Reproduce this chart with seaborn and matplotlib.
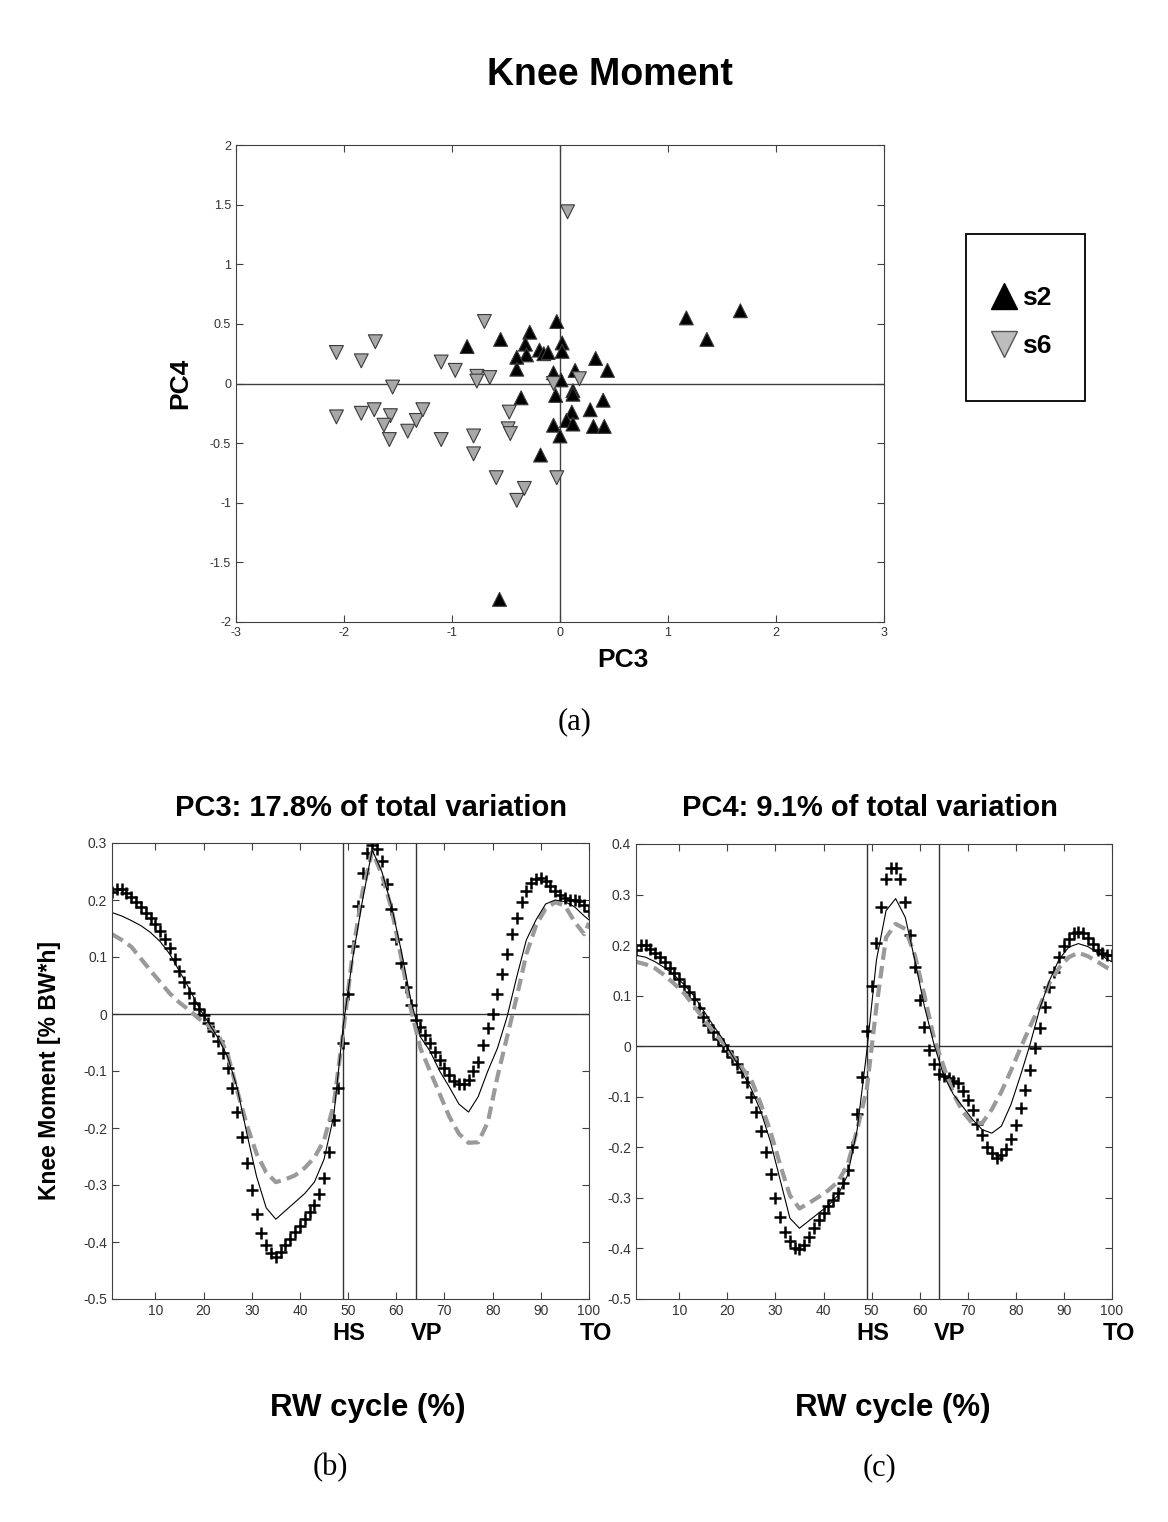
import pandas as pd
import seaborn as sns
import matplotlib.pyplot as plt
import matplotlib.transforms as mtransforms
from matplotlib.lines import Line2D
from matplotlib.patches import Rectangle
from matplotlib.ticker import FuncFormatter

# PC scores
s2_pc3 = [-0.86, -0.55, -0.28, -0.32, -0.31, -0.40, -0.40, -0.19, -0.15, -0.11,
          -0.03, 0.02, 0.02, -0.06, 0.01, 0.14, 0.33, 0.44, 1.17, 1.36,
          1.67, -0.36, -0.04, 0.12, 0.12, 0.40, 0.28, 0.11, 0.06, 0.12,
          -0.06, 0.31, 0.41, 0.00, -0.18, -0.56]
s2_pc4 = [0.31, 0.37, 0.43, 0.33, 0.24, 0.22, 0.12, 0.28, 0.25, 0.26,
          0.52, 0.34, 0.27, 0.09, 0.03, 0.11, 0.21, 0.11, 0.55, 0.37,
          0.61, -0.12, -0.10, -0.06, -0.09, -0.14, -0.22, -0.24, -0.31, -0.34,
          -0.35, -0.36, -0.36, -0.44, -0.60, -1.81]
s6_pc3 = [0.07, -2.07, -1.84, -1.71, -1.55, -1.10, -0.97, -0.70, -0.77, -0.65,
          -0.77, -0.06, 0.18, -2.07, -1.84, -1.72, -1.57, -1.63, -1.58, -1.41,
          -1.33, -1.27, -1.10, -0.80, -0.80, -0.47, -0.48, -0.46, -0.59, -0.33,
          -0.40, -0.03]
s6_pc4 = [1.44, 0.26, 0.19, 0.35, -0.03, 0.18, 0.11, 0.52, 0.06, 0.05,
          0.02, 0.00, 0.04, -0.28, -0.25, -0.22, -0.27, -0.35, -0.47, -0.40,
          -0.31, -0.22, -0.47, -0.44, -0.59, -0.24, -0.38, -0.42, -0.79, -0.88,
          -0.98, -0.79]

# knee moment curves, panels (b) and (c)
cycle = list(range(1, 101))
line_cycle = list(range(1, 100, 2)) + [100]
hs, vp = 49, 64

pc3_plus = [0.214, 0.22, 0.219, 0.213, 0.205, 0.197, 0.188, 0.178, 0.168, 0.158,
            0.145, 0.132, 0.115, 0.096, 0.076, 0.056, 0.036, 0.02, 0.008, -0.002,
            -0.015, -0.03, -0.047, -0.068, -0.095, -0.13, -0.172, -0.216, -0.262, -0.309,
            -0.35, -0.385, -0.406, -0.42, -0.427, -0.418, -0.405, -0.394, -0.382, -0.372,
            -0.36, -0.348, -0.335, -0.315, -0.287, -0.242, -0.186, -0.13, -0.05, 0.035,
            0.12, 0.19, 0.247, 0.282, 0.297, 0.29, 0.268, 0.228, 0.185, 0.131,
            0.089, 0.048, 0.016, -0.01, -0.022, -0.036, -0.05, -0.066, -0.081, -0.095,
            -0.107, -0.117, -0.122, -0.123, -0.115, -0.1, -0.085, -0.055, -0.025, 0.0,
            0.035, 0.07, 0.105, 0.14, 0.168, 0.196, 0.215, 0.23, 0.237, 0.238,
            0.233, 0.225, 0.215, 0.208, 0.203, 0.2, 0.2, 0.198, 0.192, 0.18]
pc3_mean = [0.178, 0.172, 0.164, 0.155, 0.143, 0.127, 0.105, 0.075, 0.045, 0.012,
            -0.015, -0.042, -0.075, -0.13, -0.21, -0.285, -0.34, -0.36, -0.345, -0.33,
            -0.315, -0.295, -0.255, -0.18, -0.02, 0.1, 0.2, 0.288, 0.25, 0.19,
            0.112, 0.025, -0.04, -0.065, -0.1, -0.128, -0.158, -0.172, -0.145, -0.1,
            -0.06, -0.005, 0.065, 0.13, 0.165, 0.193, 0.2, 0.197, 0.188, 0.172,
            0.165]
pc3_minus = [0.14, 0.13, 0.118, 0.097, 0.076, 0.056, 0.036, 0.02, 0.007, -0.008,
             -0.02, -0.036, -0.07, -0.135, -0.195, -0.245, -0.278, -0.295, -0.29, -0.283,
             -0.27, -0.252, -0.222, -0.16, -0.03, 0.11, 0.215, 0.285, 0.245, 0.185,
             0.1, 0.01, -0.06, -0.1, -0.14, -0.18, -0.21, -0.226, -0.225, -0.19,
             -0.11, -0.04, 0.03, 0.105, 0.155, 0.185, 0.196, 0.19, 0.162, 0.14,
             0.16]

pc4_plus = [0.19, 0.2, 0.2, 0.193, 0.185, 0.176, 0.166, 0.155, 0.145, 0.133,
            0.12, 0.108, 0.093, 0.075, 0.058, 0.042, 0.028, 0.015, 0.003, -0.01,
            -0.022, -0.035, -0.05, -0.07, -0.1, -0.13, -0.167, -0.21, -0.252, -0.3,
            -0.338, -0.368, -0.386, -0.399, -0.401, -0.393, -0.378, -0.36, -0.344, -0.33,
            -0.317, -0.305, -0.29, -0.27, -0.245, -0.2, -0.135, -0.06, 0.03, 0.12,
            0.205, 0.276, 0.33, 0.352, 0.352, 0.33, 0.285, 0.22, 0.157, 0.092,
            0.038, -0.007, -0.036, -0.054, -0.058, -0.063, -0.068, -0.073, -0.088, -0.106,
            -0.127, -0.153, -0.176, -0.199, -0.212, -0.222, -0.216, -0.203, -0.183, -0.156,
            -0.123, -0.087, -0.048, -0.003, 0.037, 0.078, 0.117, 0.147, 0.177, 0.198,
            0.213, 0.223, 0.225, 0.223, 0.215, 0.203, 0.191, 0.184, 0.181, 0.18]
pc4_mean = [0.18, 0.176, 0.167, 0.155, 0.14, 0.122, 0.1, 0.071, 0.042, 0.015,
            -0.018, -0.05, -0.085, -0.13, -0.19, -0.265, -0.34, -0.36, -0.345, -0.33,
            -0.315, -0.295, -0.255, -0.165, -0.01, 0.17, 0.268, 0.292, 0.255, 0.17,
            0.078, 0.003, -0.058, -0.095, -0.12, -0.145, -0.165, -0.172, -0.158, -0.115,
            -0.057, 0.005, 0.075, 0.13, 0.172, 0.196, 0.203, 0.197, 0.185, 0.172,
            0.167]
pc4_minus = [0.167, 0.162, 0.154, 0.14, 0.123, 0.105, 0.08, 0.055, 0.03, 0.008,
             -0.018, -0.042, -0.067, -0.115, -0.17, -0.235, -0.295, -0.321, -0.31, -0.298,
             -0.285, -0.268, -0.235, -0.165, -0.085, 0.078, 0.215, 0.242, 0.232, 0.18,
             0.1, 0.015, -0.04, -0.094, -0.13, -0.153, -0.152, -0.125, -0.09, -0.048,
             -0.003, 0.04, 0.08, 0.125, 0.155, 0.176, 0.185, 0.178, 0.167, 0.155,
             0.15]

a_xticks = [-3, -2, -1, 0, 1, 2, 3]
a_yticks = [-2, -1.5, -1, -0.5, 0, 0.5, 1, 1.5, 2]
bc_xticks = [10, 20, 30, 40, 50, 60, 70, 80, 90, 100]
b_yticks = [-0.5, -0.4, -0.3, -0.2, -0.1, 0, 0.1, 0.2, 0.3]
c_yticks = [-0.5, -0.4, -0.3, -0.2, -0.1, 0, 0.1, 0.2, 0.3, 0.4]

sns.set_style("ticks")
sans = ['Liberation Sans', 'DejaVu Sans']
serif = ['Liberation Serif', 'DejaVu Serif']
plt.rcParams['font.family'] = sans
plt.rcParams['text.color'] = 'black'
plt.rcParams['xtick.direction'] = 'in'
plt.rcParams['ytick.direction'] = 'in'
plt.rcParams['xtick.top'] = True
plt.rcParams['ytick.right'] = True
plt.rcParams['axes.edgecolor'] = '#404040'
plt.rcParams['xtick.color'] = '#404040'
plt.rcParams['ytick.color'] = '#404040'

W, H = 1168, 1522
fig = plt.figure(figsize=(W / 100, H / 100), dpi=100)


def box(l, t, r, b):
    return [l / W, 1 - b / H, (r - l) / W, (b - t) / H]


fmt = FuncFormatter(lambda v, p: f"{v:g}")

# (a) scatter of PC scores
ax_a = fig.add_axes(box(236, 145, 884, 622))
ax_a.axhline(0, color='#404040', lw=1, zorder=1)
ax_a.axvline(0, color='#404040', lw=1, zorder=1)
scores = pd.DataFrame({
    'PC3': s2_pc3 + s6_pc3,
    'PC4': s2_pc4 + s6_pc4,
    'subject': ['s2'] * len(s2_pc3) + ['s6'] * len(s6_pc3),
})
sns.scatterplot(data=scores, x='PC3', y='PC4', hue='subject', style='subject',
                markers={'s2': '^', 's6': 'v'},
                palette={'s2': 'black', 's6': '#a8a8a8'},
                s=100, edgecolor='#3a3a3a', linewidth=0.8, legend=False,
                zorder=3, ax=ax_a)
ax_a.set_xlim(-3, 3)
ax_a.set_ylim(-2, 2)
ax_a.set_xticks(a_xticks)
ax_a.set_yticks(a_yticks)
ax_a.xaxis.set_major_formatter(fmt)
ax_a.yaxis.set_major_formatter(fmt)
ax_a.tick_params(labelsize=9, length=5, width=0.8, labelcolor='#333333')
ax_a.set_xlabel('')
ax_a.set_ylabel('')

fig.text(610 / W, 1 - 75 / H, 'Knee Moment', ha='center', va='center',
         fontsize=27, fontweight='bold')
fig.text(623 / W, 1 - 660 / H, 'PC3', ha='center', va='center',
         fontsize=19, fontweight='bold')
fig.text(180 / W, 1 - 383 / H, 'PC4', ha='center', va='center', rotation=90,
         fontsize=19, fontweight='bold')
fig.text(575 / W, 1 - 722 / H, '(a)', ha='center', va='center',
         fontsize=22, family=serif)

# legend with a plain square frame
handles = [
    Line2D([], [], marker='^', linestyle='', markersize=19,
           markerfacecolor='black', markeredgecolor='black'),
    Line2D([], [], marker='v', linestyle='', markersize=19,
           markerfacecolor='#bdbdbd', markeredgecolor='#555555'),
]
fig.legend(handles, ['s2', 's6'], loc='center',
           bbox_to_anchor=(1020 / W, 1 - 322 / H), frameon=False,
           prop={'weight': 'bold', 'size': 19, 'family': sans},
           labelspacing=0.9, handletextpad=0.1, handlelength=1.2)
fig.add_artist(Rectangle((966 / W, 1 - 401 / H), 119 / W, 167 / H,
                         transform=fig.transFigure, fill=False,
                         edgecolor='black', lw=1.3))

# (b) and (c) knee moment curves
panels = [
    (box(112, 843, 589, 1299), pc3_plus, pc3_mean, pc3_minus, 0.3, b_yticks),
    (box(636, 844, 1112, 1299), pc4_plus, pc4_mean, pc4_minus, 0.4, c_yticks),
]
for rect, plus, mean, minus, ymax, yticks in panels:
    ax = fig.add_axes(rect)
    ax.axhline(0, color='#333333', lw=1, zorder=1)
    ax.axvline(hs, color='#333333', lw=1, zorder=1)
    ax.axvline(vp, color='#333333', lw=1, zorder=1)
    sns.lineplot(x=line_cycle, y=minus, color='#9a9a9a', lw=3,
                 linestyle=(0, (3, 1.5)), ax=ax)
    sns.lineplot(x=line_cycle, y=mean, color='black', lw=0.8, ax=ax)
    sns.scatterplot(x=cycle, y=plus, marker='+', color='black', s=75,
                    linewidth=1.8, ax=ax)
    ax.set_xlim(1, 100)
    ax.set_ylim(-0.5, ymax)
    ax.set_xticks(bc_xticks)
    ax.set_yticks(yticks)
    ax.xaxis.set_major_formatter(fmt)
    ax.yaxis.set_major_formatter(fmt)
    ax.tick_params(labelsize=10, length=5, width=0.8, labelcolor='#333333')
    ax.set_xlabel('')
    ax.set_ylabel('')
    trans = mtransforms.blended_transform_factory(ax.transData, ax.transAxes)
    for xpos, lab in [(hs + 1.2, 'HS'), (vp + 2.2, 'VP'), (101.5, 'TO')]:
        ax.text(xpos, -0.075, lab, transform=trans, ha='center', va='center',
                fontsize=17, fontweight='bold', clip_on=False)

fig.text(371 / W, 1 - 808 / H, 'PC3: 17.8% of total variation', ha='center',
         va='center', fontsize=21, fontweight='bold')
fig.text(870 / W, 1 - 808 / H, 'PC4: 9.1% of total variation', ha='center',
         va='center', fontsize=21, fontweight='bold')
fig.text(50 / W, 1 - 1070 / H, 'Knee Moment [% BW*h]', ha='center', va='center',
         rotation=90, fontsize=16.5, fontweight='bold')
for cx in [368, 893]:
    fig.text(cx / W, 1 - 1408 / H, 'RW cycle (%)', ha='center', va='center',
             fontsize=22.5, fontweight='bold')
fig.text(330 / W, 1 - 1468 / H, '(b)', ha='center', va='center',
         fontsize=22, family=serif)
fig.text(880 / W, 1 - 1468 / H, '(c)', ha='center', va='center',
         fontsize=22, family=serif)

fig.savefig('out.png', dpi=100)
